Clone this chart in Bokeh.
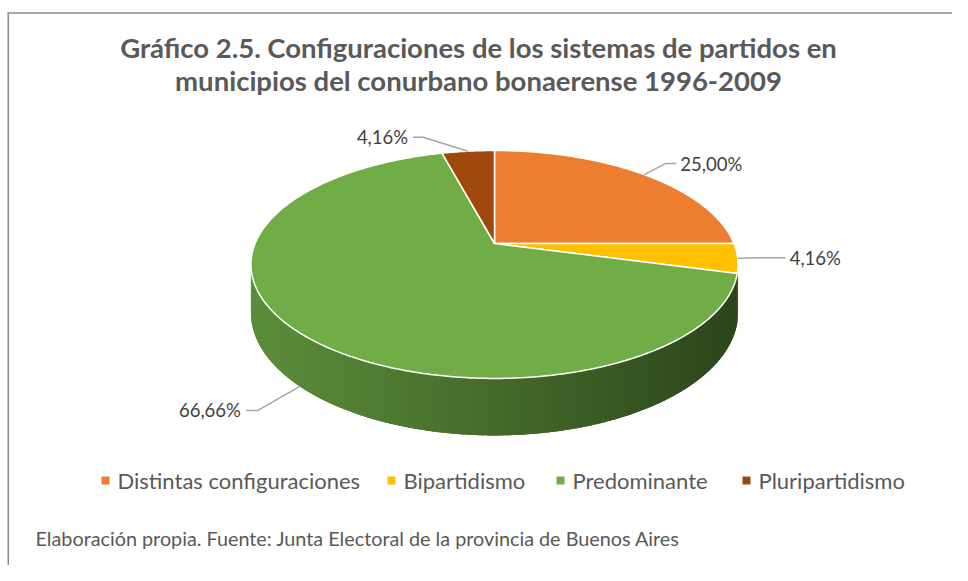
import numpy as np
from bokeh.plotting import figure
from bokeh.models import Range1d
from bokeh.core.properties import value
from bokeh.embed import file_html
from bokeh.resources import INLINE

# ---------------- data ----------------
categories = ["Distintas configuraciones", "Bipartidismo", "Predominante", "Pluripartidismo"]
values = [25.00, 4.16, 66.66, 4.16]
value_labels = ["25,00%", "4,16%", "66,66%", "4,16%"]
colors = ["#ED7D31", "#FFC000", "#70AD47", "#9E480E"]
title_lines = ["Gráfico 2.5. Configuraciones de los sistemas de partidos en",
               "municipios del conurbano bonaerense 1996-2009"]
footer = "Elaboración propia. Fuente: Junta Electoral de la provincia de Buenos Aires"

# ---------------- layout ----------------
FONT = "Lato"
W, H = 952, 565
p = figure(width=W, height=H, x_range=Range1d(0, W), y_range=Range1d(H, 0),
           output_backend="svg", toolbar_location=None, min_border=0,
           x_axis_type=None, y_axis_type=None)
p.grid.visible = False
p.outline_line_color = None
p.background_fill_color = "white"
p.border_fill_color = "white"

# chart frame (top & left visible)
p.line([7.75, 7.75], [12.5, H], line_color="#8a8a8a", line_width=1.5)
p.line([7, W], [12.5, 12.5], line_color="#8a8a8a", line_width=1.5)

# 3D pie projection parameters
X0, Y0 = 494.0, 243.0
B, A, K, D = 239.4, 110.1, -0.184, 46.5


def proj(theta_deg):
    t = np.radians(theta_deg)
    u = np.sin(t)
    v = -np.cos(t)
    w = 1 + K * v
    return X0 + B * u / w, Y0 + A * v / w, w


vals = np.array(values, dtype=float)
frac = vals / vals.sum()
ends = np.cumsum(frac) * 360.0
starts = ends - frac * 360.0


def slice_at(theta):
    th = theta % 360
    for i in range(len(vals)):
        if starts[i] <= th < ends[i]:
            return i
    return len(vals) - 1


def hex2rgb(h):
    h = h.lstrip("#")
    return tuple(int(h[i:i + 2], 16) for i in (0, 2, 4))


def shade(h, f):
    r, g, b = hex2rgb(h)
    return "#%02x%02x%02x" % (int(r * f), int(g * f), int(b * f))


# side (front visible part), drawn as overlapping gradient strips
sil = np.degrees(np.arcsin(-K))
th_r, th_l = 90 + sil, 270 - sil
xl, _, _ = proj(th_l)
xr, _, _ = proj(th_r)
NS = 160
edges = np.linspace(th_r, th_l, NS + 1)
step = edges[1] - edges[0]
sx, sy, sc = [], [], []
for j, (a0, a1) in enumerate(zip(edges[:-1], edges[1:])):
    b0 = a0
    b1 = min(a1 + 1.5 * step, th_l)
    aa = np.linspace(b0, b1, 4)
    x1, y1, w1 = proj(aa)
    xs = list(x1) + list(x1[::-1])
    ys = list(y1) + list((y1 + D / w1)[::-1])
    xm = np.mean(proj(np.array([a0, a1]))[0])
    tpos = min(max((xm - xl) / (xr - xl), 0), 1)  # 0 at left .. 1 at right
    f = 0.82 - 0.42 * tpos ** 1.1
    c = shade(colors[slice_at((a0 + a1) / 2)], f)
    sx.append(xs)
    sy.append(ys)
    sc.append(c)
# draw from left to right so each strip covers the seam of the previous one
p.patches(sx[::-1], sy[::-1], fill_color=sc[::-1], line_color=None)

# top face slices
px, py = [], []
for s, e in zip(starts, ends):
    aa = np.linspace(s, e, max(int((e - s) * 2), 4))
    x1, y1, _ = proj(aa)
    px.append([X0] + list(x1) + [X0])
    py.append([Y0] + list(y1) + [Y0])
p.patches(px, py, fill_color=colors, line_color="white", line_width=1.5, line_join="round")

# data labels with leader lines
# per slice: (elbow dx, elbow dy, end dx, text gap, align, on_side)
label_layout = [
    (21, -11, 32, 4, "left", False),
    (24, -0.5, 48, 4, "left", False),
    (-42, 24, -54, -5, "right", True),
    (-45, -14, -55, -5, "right", False),
]
for i, (s, e) in enumerate(zip(starts, ends)):
    mid = (s + e) / 2
    ax, ay, aw = proj(mid)
    ex, ey, edx, gap, align, side = label_layout[i]
    if side:
        ay = ay + D / aw
    lx = [ax, ax + ex, ax + edx]
    ly = [ay, ay + ey, ay + ey]
    p.line(lx, ly, line_color="#a6a6a6", line_width=1.5)
    p.text([ax + edx + gap], [ay + ey], text=[value_labels[i]], text_font=value(FONT),
           text_font_size="18.5px", text_color="#404040", text_align=align,
           text_baseline="alphabetic")

# title
p.text([478, 478], [47, 80], text=title_lines, text_font=value(FONT),
       text_font_size="27.5px", text_font_style="bold", text_color="#595959",
       text_align="center", text_baseline="middle")

# legend
leg_x = [105, 391, 560, 746]
p.scatter(leg_x, [480] * 4, marker="square", size=8, fill_color=colors, line_color=None)
p.text([x + 12 for x in leg_x], [480] * 4, text=categories, text_font=value(FONT),
       text_font_size="22px", text_color="#595959", text_align="left",
       text_baseline="middle")

# footer
p.text([35], [537], text=[footer], text_font=value(FONT), text_font_size="19.8px",
       text_color="#595959", text_align="left", text_baseline="middle")

open("out.html", "w").write(file_html(p, INLINE))
